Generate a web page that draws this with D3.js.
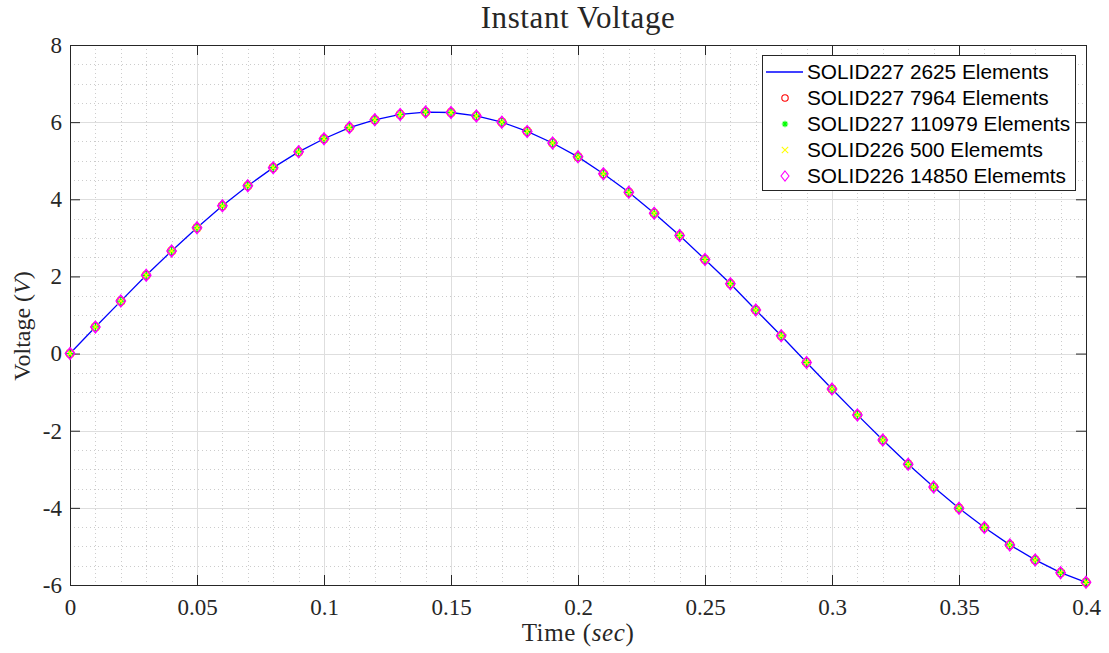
<!DOCTYPE html>
<html>
<head>
<meta charset="utf-8">
<script src="https://cdn.jsdelivr.net/npm/d3@7.9.0/dist/d3.min.js"></script>
<style>
  html, body { margin: 0; padding: 0; background: #fff; }
  svg { display: block; }
  .serif { font-family: "Liberation Serif", "Times New Roman", serif; fill: #262626; }
  .legend text { font-family: "Liberation Sans", Arial, sans-serif; font-size: 20.8px; fill: #000; }
</style>
</head>
<body>
<svg id="chart" width="1109" height="653"></svg>
<script>
// sample times (s)
const time = [0, 0.01, 0.02, 0.03, 0.04, 0.05, 0.06, 0.07, 0.08, 0.09,
  0.10, 0.11, 0.12, 0.13, 0.14, 0.15, 0.16, 0.17, 0.18, 0.19,
  0.20, 0.21, 0.22, 0.23, 0.24, 0.25, 0.26, 0.27, 0.28, 0.29,
  0.30, 0.31, 0.32, 0.33, 0.34, 0.35, 0.36, 0.37, 0.38, 0.39, 0.40];

// voltage; all five meshes overlap
const voltage = [0, 0.69, 1.36, 2.03, 2.66, 3.26, 3.83, 4.35, 4.82, 5.23,
  5.57, 5.86, 6.06, 6.20, 6.26, 6.25, 6.16, 6.00, 5.76, 5.46,
  5.10, 4.66, 4.18, 3.64, 3.06, 2.44, 1.81, 1.13, 0.46, -0.23,
  -0.92, -1.59, -2.24, -2.87, -3.46, -4.01, -4.51, -4.96, -5.35, -5.68, -5.93];

const seriesNames = [
  'SOLID227 2625 Elements',
  'SOLID227 7964 Elements',
  'SOLID227 110979 Elements',
  'SOLID226 500 Elememts',
  'SOLID226 14850 Elememts'
];
const seriesMarkers = ['line', 'circle', 'star', 'cross', 'diamond'];
const seriesColors = ['#0000ff', '#ff0000', '#00ff00', '#ffff00', '#ff00ff'];

const xTicks = [0, 0.05, 0.1, 0.15, 0.2, 0.25, 0.3, 0.35, 0.4];
const yTicks = [-6, -4, -2, 0, 2, 4, 6, 8];

const margin = { left: 70, top: 45, right: 1086, bottom: 585 };
const svg = d3.select('#chart');

const x = d3.scaleLinear().domain([0, 0.4]).range([margin.left, margin.right]);
const y = d3.scaleLinear().domain([-6, 8]).range([margin.bottom, margin.top]);

const xMinor = d3.range(0, 41).map((i) => i * 0.01);
const yMinor = d3.range(0, 29).map((i) => -6 + i * 0.5);

const grid = svg.append('g').attr('shape-rendering', 'crispEdges');

grid.selectAll('line.xminor')
  .data(xMinor)
  .join('line')
  .attr('x1', (d) => Math.round(x(d)) + 0.5)
  .attr('x2', (d) => Math.round(x(d)) + 0.5)
  .attr('y1', margin.top)
  .attr('y2', margin.bottom)
  .attr('stroke', '#cccccc')
  .attr('stroke-dasharray', '1,3');

grid.selectAll('line.yminor')
  .data(yMinor)
  .join('line')
  .attr('y1', (d) => Math.round(y(d)) + 0.5)
  .attr('y2', (d) => Math.round(y(d)) + 0.5)
  .attr('x1', margin.left)
  .attr('x2', margin.right)
  .attr('stroke', '#cccccc')
  .attr('stroke-dasharray', '1,3');

grid.selectAll('line.xmajor')
  .data(xTicks)
  .join('line')
  .attr('x1', (d) => Math.round(x(d)) + 0.5)
  .attr('x2', (d) => Math.round(x(d)) + 0.5)
  .attr('y1', margin.top)
  .attr('y2', margin.bottom)
  .attr('stroke', '#dedede');

grid.selectAll('line.ymajor')
  .data(yTicks)
  .join('line')
  .attr('y1', (d) => Math.round(y(d)) + 0.5)
  .attr('y2', (d) => Math.round(y(d)) + 0.5)
  .attr('x1', margin.left)
  .attr('x2', margin.right)
  .attr('stroke', '#dedede');

// axes (ticks point inward, box on)
const xAxisBottom = d3.axisBottom(x).tickValues(xTicks).tickSize(-10).tickPadding(14)
  .tickFormat((d) => d3.format('')(+d.toFixed(2)));
const xAxisTop = d3.axisTop(x).tickValues(xTicks).tickSize(-10).tickFormat('');
const yAxisLeft = d3.axisLeft(y).tickValues(yTicks).tickSize(-10).tickPadding(8)
  .tickFormat((d) => (d < 0 ? '-' + Math.abs(d) : d));
const yAxisRight = d3.axisRight(y).tickValues(yTicks).tickSize(-10).tickFormat('');

function styleAxis(g) {
  g.attr('font-family', null).attr('font-size', null);
  g.select('.domain').attr('stroke', '#262626');
  g.selectAll('.tick line').attr('stroke', '#262626');
  g.selectAll('.tick text').attr('class', 'serif').style('font-size', '23px').attr('fill', '#262626');
}

svg.append('g').attr('transform', `translate(0,${margin.bottom})`).call(xAxisBottom).call(styleAxis);
svg.append('g').attr('transform', `translate(0,${margin.top})`).call(xAxisTop).call(styleAxis);
svg.append('g').attr('transform', `translate(${margin.left},0)`).call(yAxisLeft).call(styleAxis);
svg.append('g').attr('transform', `translate(${margin.right},0)`).call(yAxisRight).call(styleAxis);

// markers
function markerPath(type, s) {
  if (type === 'circle') {
    return d3.symbol(d3.symbolCircle, Math.PI * s * s)();
  }
  if (type === 'diamond') {
    return `M0,${-s}L${s * 0.8},0L0,${s}L${-s * 0.8},0Z`;
  }
  if (type === 'cross') {
    return `M${-s},${-s}L${s},${s}M${-s},${s}L${s},${-s}`;
  }
  if (type === 'star') {
    const d = s * 0.7;
    return `M${-s},0L${s},0M0,${-s}L0,${s}M${-d},${-d}L${d},${d}M${-d},${d}L${d},${-d}`;
  }
  return '';
}
const markerSize = { circle: 4, star: 4, cross: 3.5, diamond: 5.8 };

const points = time.map((t, i) => ({ t, v: voltage[i] }));
const plot = svg.append('g');

plot.append('path')
  .datum(points)
  .attr('fill', 'none')
  .attr('stroke', seriesColors[0])
  .attr('stroke-width', 1.3)
  .attr('d', d3.line().x((d) => x(d.t)).y((d) => y(d.v)));

seriesMarkers.slice(1).forEach((type, k) => {
  const color = seriesColors[k + 1];
  plot.append('g')
    .selectAll('path')
    .data(points)
    .join('path')
    .attr('transform', (d) => `translate(${x(d.t)},${y(d.v)})`)
    .attr('d', markerPath(type, markerSize[type]))
    .attr('fill', 'none')
    .attr('stroke', color)
    .attr('stroke-width', type === 'diamond' ? 1.5 : 1.3);
});

// title and labels
svg.append('text')
  .attr('class', 'serif')
  .attr('x', (margin.left + margin.right) / 2)
  .attr('y', 28)
  .attr('text-anchor', 'middle')
  .style('font-size', '31px')
  .style('letter-spacing', '0.6px')
  .attr('fill', '#000')
  .text('Instant Voltage');

const xLabel = svg.append('text')
  .attr('class', 'serif')
  .attr('x', (margin.left + margin.right) / 2)
  .attr('y', 641)
  .attr('text-anchor', 'middle')
  .style('font-size', '25px')
  .style('letter-spacing', '0.6px');
xLabel.append('tspan').text('Time (');
xLabel.append('tspan').attr('font-style', 'italic').text('sec');
xLabel.append('tspan').text(')');

const yLabel = svg.append('text')
  .attr('class', 'serif')
  .attr('transform', `translate(30,326) rotate(-90)`)
  .attr('text-anchor', 'middle')
  .style('font-size', '24px');
yLabel.append('tspan').text('Voltage (');
yLabel.append('tspan').attr('font-style', 'italic').text('V');
yLabel.append('tspan').text(')');

// legend
const legend = svg.append('g').attr('class', 'legend');
legend.append('rect')
  .attr('x', 762.5)
  .attr('y', 55.5)
  .attr('width', 313)
  .attr('height', 135)
  .attr('fill', '#fff')
  .attr('stroke', '#262626')
  .attr('stroke-width', 1);

const legendItems = legend.selectAll('g.item')
  .data(seriesNames)
  .join('g')
  .attr('class', 'item')
  .attr('transform', (_, i) => `translate(0,${72 + i * 26})`);

legendItems.each(function (name, i) {
  const g = d3.select(this);
  const type = seriesMarkers[i];
  if (type === 'line') {
    g.append('line').attr('x1', 766).attr('x2', 803).attr('y1', 0).attr('y2', 0)
      .attr('stroke', seriesColors[i]).attr('stroke-width', 1.3);
  } else {
    g.append('path')
      .attr('transform', 'translate(785,0)')
      .attr('d', markerPath(type, type === 'diamond' ? 5 : 3.2))
      .attr('fill', 'none')
      .attr('stroke', seriesColors[i])
      .attr('stroke-width', 1.1);
  }
  g.append('text').attr('x', 807).attr('y', 7).text(name);
});
</script>
</body>
</html>
